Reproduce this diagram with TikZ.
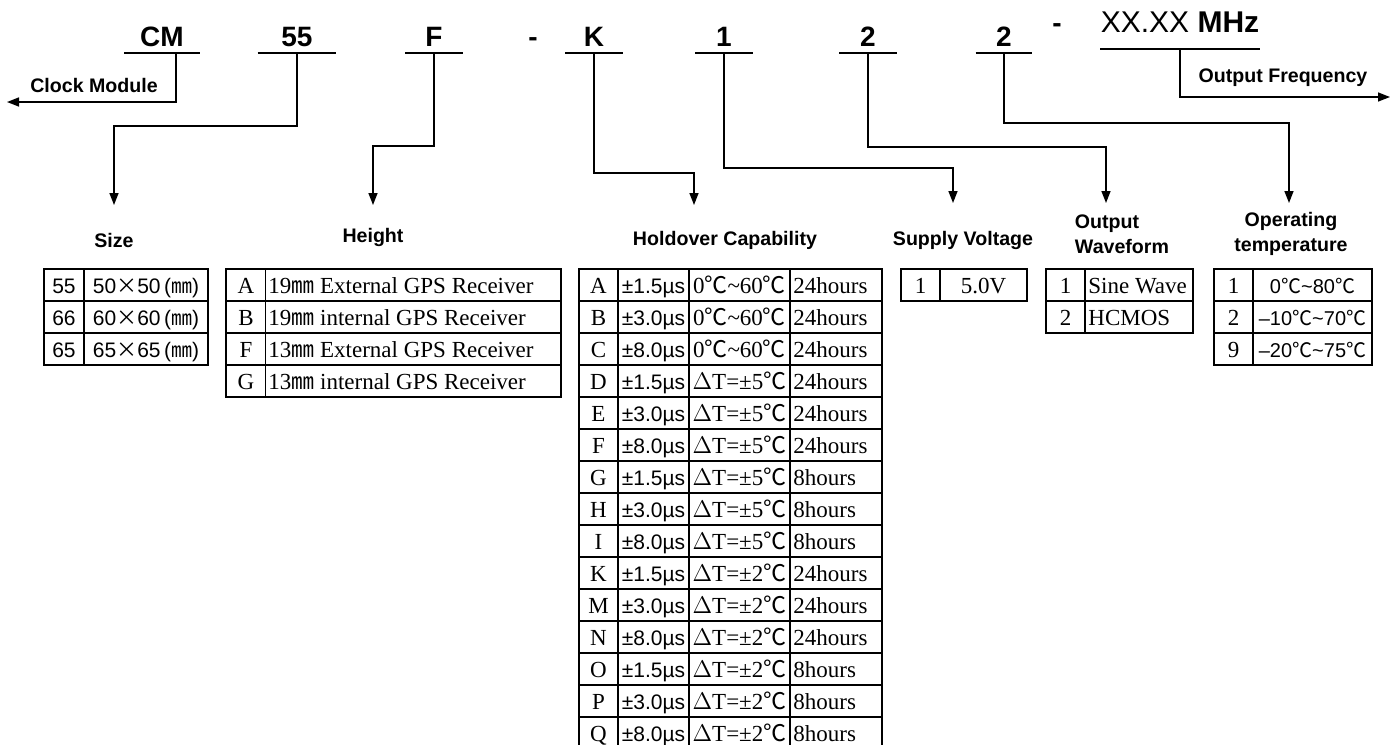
\documentclass[tikz,border=0pt]{standalone}
\usepackage{fontspec}
\usepackage{tikz}
\usetikzlibrary{arrows.meta}
\setmainfont{Liberation Sans}
\newfontfamily\serf{Liberation Serif}
\newfontfamily\cjk{Noto Sans CJK SC}
\def\rowh{32}
\newcommand{\dC}{{\cjk ℃}}
\newcommand{\mmsym}{{\cjk ㎜}}
\newcommand{\tld}{\textasciitilde}
\newcommand{\holdrng}{0\dC\tld60\dC}
\newcommand{\dTemp}[1]{$\Delta$T=±#1\dC}
\newcommand{\tabserif}{\serf\fontsize{11.5}{13}\selectfont}
\newcommand{\tabsans}{\fontsize{10.5}{12}\selectfont}
\newcommand{\drawgrid}[5]{
  \draw[tabline] (#1,#3) rectangle (#2,#3+\rowh*#4);
  \foreach \cx in {#5} {
    \draw[tabline] (\cx,#3) -- (\cx,#3+\rowh*#4);
  }
  \foreach \r in {1, ..., #4} {
    \draw[tabline] (#1,#3+\rowh*\r) -- (#2,#3+\rowh*\r);
  }
}
\tikzset{
  code/.style={font=\fontsize{14}{16}\selectfont\bfseries, anchor=south, inner xsep=0pt, inner ysep=3pt, text depth=0pt},
  lbl/.style={font=\fontsize{9.8}{12.5}\selectfont\bfseries},
  conn/.style={line width=0.75pt, -{Triangle[width=4.5pt,length=6pt]}},
  tabline/.style={line width=0.6pt},
  ctxt/.style={anchor=base, inner sep=0pt},
  ltxt/.style={anchor=base west, inner sep=0pt}
}

\begin{document}
\begin{tikzpicture}[x=0.5pt, y=-0.5pt]
    \useasboundingbox[fill=white] (0,0) rectangle (1394,745);
    \clip (0,0) rectangle (1394,745);
    % part number
    \node[code, minimum width=37.5pt] (cm) at (162,53) {CM};
    \node[code, minimum width=39pt] (sz) at (297,53) {55};
    \node[code, minimum width=28.5pt] (ht) at (434,53) {F};
    \node[code] (dash1) at (533,53) {-};
    \node[code, minimum width=28.5pt] (hold) at (594,53) {K};
    \node[code, minimum width=28.5pt] (volt) at (724,53) {1};
    \node[code, minimum width=28.5pt] (wave) at (868,53) {2};
    \node[code, minimum width=28pt] (temp) at (1004,53) {2};
    \node[code, inner ysep=8pt] (dash2) at (1057,49) {-};
    \node[code, font=\fontsize{15}{17}\selectfont\bfseries, inner ysep=8pt, minimum width=59pt] (freq) at (1180,49) {{\mdseries XX.XX} MHz};
    \foreach \n in {cm, sz, ht, hold, volt, wave, temp, freq} {
      \draw[line width=0.75pt] (\n.south west) -- (\n.south east);
    }
    % labels
    \node[lbl] (cmlbl) at (94,85) {Clock Module};
    \node[lbl] (szlbl) at (114,240) {Size};
    \node[lbl] (htlbl) at (373,237) {Height};
    \node[lbl] (holdlbl) at (725,240) {Holdover Capability};
    \node[lbl] (voltlbl) at (963,240) {Supply Voltage};
    \node[lbl, align=left] (wavelbl) at (1122,234) {Output\\Waveform};
    \node[lbl, align=center] (templbl) at (1291,234) {Operating\\temperature};
    \node[lbl] (freqlbl) at (1283,78) {Output Frequency};
    % arrow ends
    \coordinate (cmtip) at (7,102);
    \coordinate (sztip) at (114,205);
    \coordinate (httip) at (373,205);
    \coordinate (holdtip) at (694,205);
    \coordinate (volttip) at (953,203);
    \coordinate (wavetip) at (1106,203);
    \coordinate (temptip) at (1289,203);
    \coordinate (freqtip) at (1390,97);
    \draw[conn] ([xshift=7pt]cm.south) |- (cmtip);
    \draw[conn] (sz.south) -- ++(0,73) -| (sztip);
    \draw[conn] (ht.south) -- ++(0,93) -| (httip);
    \draw[conn] (hold.south) -- ++(0,120) -| (holdtip);
    \draw[conn] (volt.south) -- ++(0,115) -| (volttip);
    \draw[conn] (wave.south) -- ++(0,94) -| (wavetip);
    \draw[conn] (temp.south) -- ++(0,70) -| (temptip);
    \draw[conn] (freq.south) |- (freqtip);
    % size table
    \drawgrid{44}{208}{269}{3}{84}
    \foreach \c/\s [count=\r from 0] in {55/50, 66/60, 65/65} {
      \node[ctxt, font=\tabsans] (size-\r-1) at (64,293+\rowh*\r) {\c};
      \node[ctxt, font=\tabsans] (size-\r-2) at (146,293+\rowh*\r) {\s{\cjk ×}\s\,({\mmsym})};
    }
    % height table
    \drawgrid{226}{561}{269}{4}{265.5}
    \foreach \c/\t [count=\r from 0] in {A/19\mmsym\ External GPS Receiver, B/19\mmsym\ internal GPS Receiver, F/13\mmsym\ External GPS Receiver, G/13\mmsym\ internal GPS Receiver} {
      \node[ctxt, font=\tabserif] (height-\r-1) at (246,293+\rowh*\r) {\c};
      \node[ltxt, font=\tabserif] (height-\r-2) at (268,293+\rowh*\r) {\t};
    }
    % holdover table
    \drawgrid{579}{882}{269}{15}{618, 689, 790}
    \foreach \c/\d/\t/\h [count=\r from 0] in {A/1.5/\holdrng/24, B/3.0/\holdrng/24, C/8.0/\holdrng/24,
      D/1.5/\dTemp5/24, E/3.0/\dTemp5/24, F/8.0/\dTemp5/24, G/1.5/\dTemp5/8, H/3.0/\dTemp5/8, I/8.0/\dTemp5/8,
      K/1.5/\dTemp2/24, M/3.0/\dTemp2/24, N/8.0/\dTemp2/24, O/1.5/\dTemp2/8, P/3.0/\dTemp2/8, Q/8.0/\dTemp2/8} {
      \node[ctxt, font=\tabserif] (hold-\r-1) at (598.5,293+\rowh*\r) {\c};
      \node[ctxt, font=\tabsans] (hold-\r-2) at (653.5,293+\rowh*\r) {±\d µs};
      \node[ctxt, font=\tabserif] (hold-\r-3) at (739.5,293+\rowh*\r) {\t};
      \node[ltxt, font=\tabserif] (hold-\r-4) at (793,293+\rowh*\r) {\h hours};
    }
    % supply voltage table
    \drawgrid{901}{1027}{269}{1}{940}
    \node[ctxt, font=\tabserif] (volt-0-1) at (920.5,293) {1};
    \node[ctxt, font=\tabserif] (volt-0-2) at (983.5,293) {5.0V};
    % waveform table
    \drawgrid{1046}{1193}{269}{2}{1085}
    \foreach \c/\t [count=\r from 0] in {1/Sine Wave, 2/HCMOS} {
      \node[ctxt, font=\tabserif] (wave-\r-1) at (1065.5,293+\rowh*\r) {\c};
      \node[ltxt, font=\tabserif] (wave-\r-2) at (1088,293+\rowh*\r) {\t};
    }
    % temperature table
    \drawgrid{1214}{1372}{269}{3}{1253}
    \foreach \c/\t [count=\r from 0] in {1/0\dC\tld80\dC, 2/\textendash10\dC\tld70\dC, 9/\textendash20\dC\tld75\dC} {
      \node[ctxt, font=\tabserif] (temp-\r-1) at (1233.5,293+\rowh*\r) {\c};
      \node[ctxt, font=\fontsize{10}{12}\selectfont] (temp-\r-2) at (1312.5,293+\rowh*\r) {\t};
    }
  \end{tikzpicture}
\end{document}
